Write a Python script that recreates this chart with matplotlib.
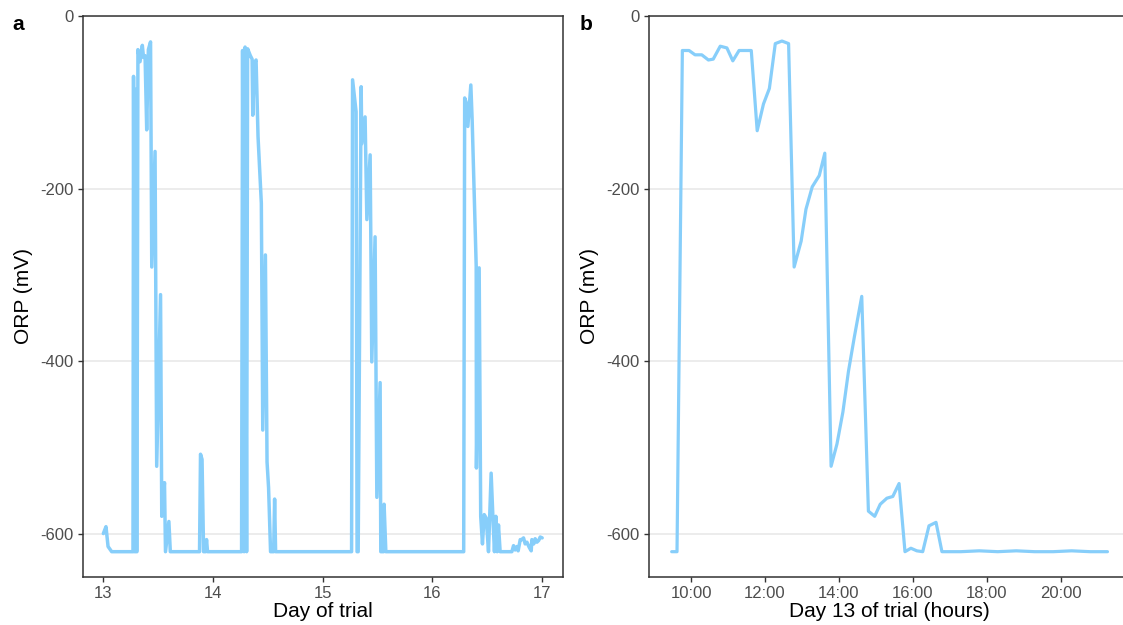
import matplotlib
matplotlib.use("Agg")
import matplotlib.pyplot as plt

# ---- Panel a data: ORP across days of trial ----
day_a = [13.003, 13.027, 13.046, 13.079, 13.273, 13.278, 13.287, 13.292, 13.298,
         13.305, 13.309, 13.318,
         13.337, 13.358, 13.369, 13.383, 13.398, 13.413, 13.433, 13.444, 13.474,
         13.489, 13.524, 13.535, 13.560, 13.569, 13.600, 13.613,
         13.879, 13.888, 13.902, 13.916, 13.934, 13.943, 13.952,
         14.262, 14.271, 14.285, 14.294, 14.308, 14.317, 14.342, 14.358, 14.364,
         14.379, 14.394, 14.412, 14.442, 14.455, 14.479, 14.494, 14.508, 14.526,
         14.554, 14.563, 14.572,
         15.264, 15.273, 15.305, 15.314, 15.324, 15.351, 15.357, 15.387, 15.403,
         15.433, 15.448, 15.478, 15.494, 15.524, 15.530, 15.556, 15.560, 15.576,
         16.285, 16.294, 16.307, 16.323, 16.350, 16.362, 16.399, 16.401, 16.426,
         16.440, 16.456, 16.472, 16.490, 16.511, 16.535, 16.554, 16.565, 16.578,
         16.590, 16.602, 16.617, 16.724, 16.739, 16.754, 16.770, 16.781, 16.800,
         16.815, 16.830, 16.845, 16.861, 16.882, 16.900, 16.906, 16.923, 16.936,
         16.952, 16.968, 16.982, 17.000]
orp_a = [-600, -592, -615, -621, -621, -70, -621, -621, -85,
         -621, -621, -39,
         -53, -34, -48, -46, -132, -39, -30, -291, -157,
         -522, -323, -580, -541, -621, -586, -621,
         -621, -508, -514, -621, -621, -607, -621,
         -621, -40, -621, -36, -621, -38, -46, -50, -115,
         -54, -51, -140, -217, -480, -277, -517, -547, -621,
         -621, -560, -621,
         -621, -74, -111, -621, -621, -82, -148, -117, -236,
         -161, -401, -256, -558, -425, -621, -621, -566, -621,
         -621, -95, -100, -128, -80, -120, -290, -524, -292,
         -580, -612, -578, -582, -621, -530, -590, -621, -580,
         -621, -590, -621, -621, -614, -619, -615, -620, -607,
         -607, -605, -612, -610, -616, -620, -607, -612, -606,
         -610, -608, -604, -605]

# ---- Panel b data: ORP during day 13 (hours) ----
hour_b = [9.476, 9.62, 9.765, 9.946, 10.108, 10.29, 10.47, 10.60, 10.79, 10.97,
          11.13, 11.30, 11.63, 11.79, 11.96, 12.12, 12.28, 12.46, 12.64, 12.79,
          12.98, 13.11, 13.28, 13.47, 13.62, 13.79, 13.95, 14.11, 14.26, 14.42,
          14.62, 14.80, 14.97, 15.12, 15.30, 15.46, 15.63, 15.79, 15.95, 16.11,
          16.27, 16.44, 16.63, 16.79, 17.3, 17.8, 18.3, 18.8, 19.3, 19.8,
          20.3, 20.8, 21.27]
orp_b = [-621, -621, -40, -40, -45, -45, -51, -50, -35, -37,
         -52, -40, -40, -133, -102, -84, -32, -29, -32, -291,
         -261, -224, -198, -185, -159, -522, -496, -459, -412, -372,
         -325, -574, -580, -566, -559, -557, -542, -621, -617, -620,
         -621, -591, -587, -621, -621, -620, -621, -620, -621, -621,
         -620, -621, -621]

yticks = [0, -200, -400, -600]
xticks_a = [13, 14, 15, 16, 17]
xticks_b = [10, 12, 14, 16, 18, 20]
xticklabels_b = ["10:00", "12:00", "14:00", "16:00", "18:00", "20:00"]

LINE = "#87CEFA"
W, H = 1123, 625
fig = plt.figure(figsize=(W / 100, H / 100), dpi=100)
plt.rcParams['font.family'] = ['Liberation Sans', 'DejaVu Sans']


def px_axes(l, r, t, b):
    return fig.add_axes([l / W, 1 - b / H, (r - l) / W, (b - t) / H])


ax_a = px_axes(82.7, 562.5, 16, 576.7)
ax_b = px_axes(649, 1130, 16, 576.7)


def style(ax):
    for s in ax.spines.values():
        s.set_color("#333333")
        s.set_linewidth(1.1)
    ax.set_ylim(-650, 0)
    ax.set_yticks(yticks)
    ax.set_yticklabels([str(v) for v in yticks])
    ax.yaxis.grid(True, color="#EBEBEB", linewidth=1.3)
    ax.xaxis.grid(False)
    ax.set_axisbelow(True)
    ax.tick_params(axis="both", direction="out", length=3.7, width=1.0,
                   color="#333333", labelcolor="#4D4D4D", labelsize=12, pad=3)
    ax.set_ylabel("ORP (mV)", fontsize=15, color="black", labelpad=5)


ax_a.plot(day_a, orp_a, color=LINE, linewidth=2.5,
          solid_joinstyle="round", solid_capstyle="round")
style(ax_a)
ax_a.set_xlim(12.815, 17.185)
ax_a.set_xticks(xticks_a)
ax_a.set_xticklabels([str(v) for v in xticks_a])
ax_a.set_xlabel("Day of trial", fontsize=15, color="black", labelpad=1)

ax_b.plot(hour_b, orp_b, color=LINE, linewidth=2.3,
          solid_joinstyle="round", solid_capstyle="round")
style(ax_b)
ax_b.set_xlim(8.862, 21.88)
ax_b.set_xticks(xticks_b)
ax_b.set_xticklabels(xticklabels_b)
ax_b.set_xlabel("Day 13 of trial (hours)", fontsize=15, color="black", labelpad=1)

fig.text(12 / W, 1 - 25 / H, "a", fontsize=15, fontweight="bold", va="center", ha="left")
fig.text(580 / W, 1 - 25 / H, "b", fontsize=15, fontweight="bold", va="center", ha="left")

fig.savefig("out.png", dpi=100, facecolor="white")
